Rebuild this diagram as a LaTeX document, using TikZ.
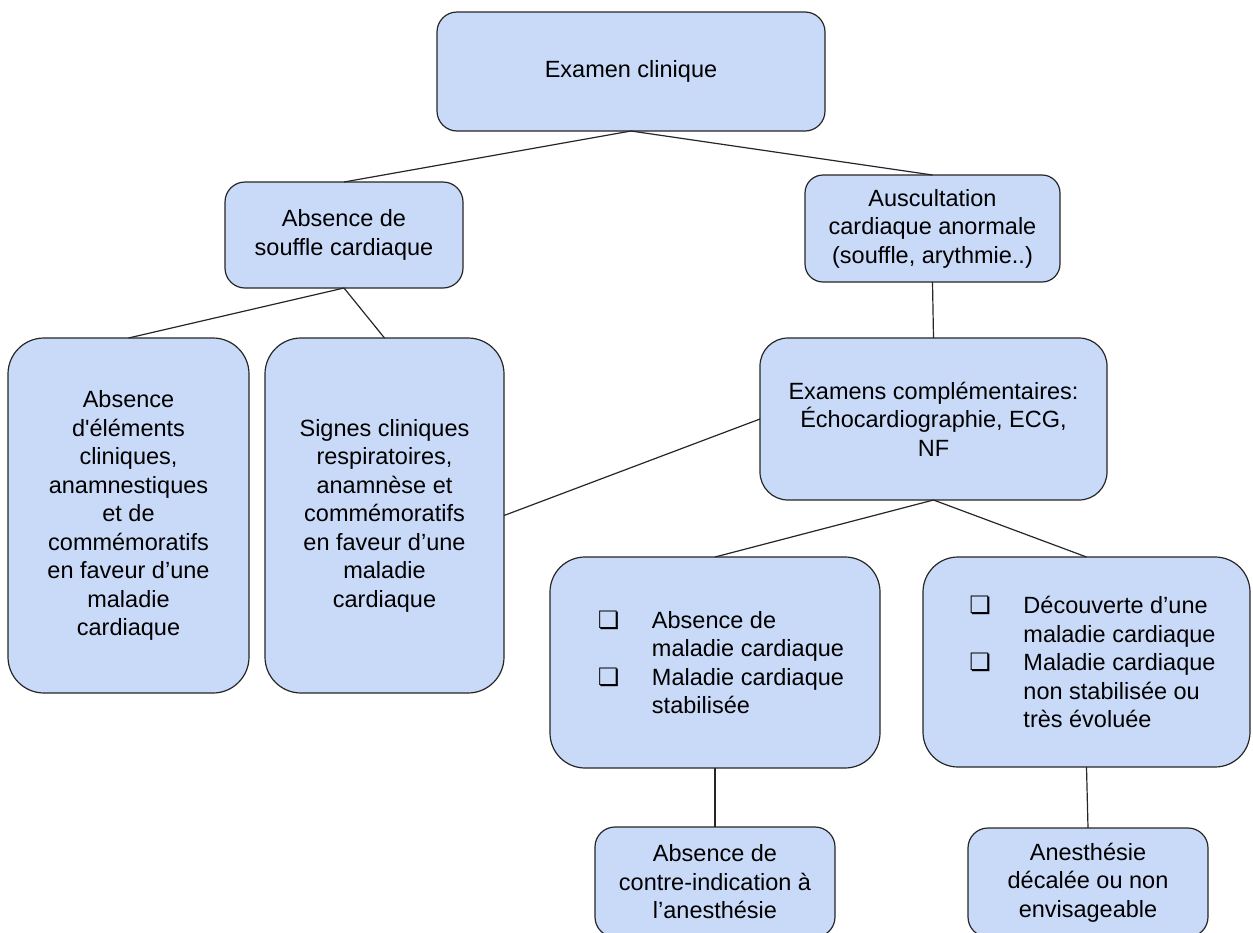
\documentclass[tikz,border=0pt]{standalone}
\usepackage{fontspec}
\setmainfont{Liberation Sans}
\newfontfamily\symbfont{DejaVu Sans}
\usepackage{tikz}
\usetikzlibrary{positioning}
\usepackage{xcolor}
\definecolor{boxblue}{HTML}{C9DAF8}
\newcommand{\chk}{\hspace*{12pt}\makebox[54pt][l]{\symbfont\fontsize{24}{24}\selectfont ❏}}
\newcommand{\nochk}{\hspace*{66pt}}

\begin{document}
\begin{tikzpicture}[
    x=1pt, y=-1pt,
    box/.style={draw=black!85, line width=1.2pt, fill=boxblue, rounded corners=#1,
      align=center, inner sep=0pt, outer sep=0pt, font=\fontsize{23.5}{28.5}\selectfont},
    box/.default=20pt,
    link/.style={draw=black!85, line width=1.2pt}
  ]
  \useasboundingbox (0,0) rectangle (1253,932);
  \clip (0,0) rectangle (1253,932);

  \node[box, minimum width=388pt, minimum height=119pt] (exam) at (631,71.5) {Examen clinique};
  \node[box, minimum width=238pt, minimum height=106pt] (souffle) at (344,235) {Absence de\\souffle cardiaque};
  \node[box=18pt, minimum width=255pt, minimum height=107pt] (auscult) at (932.5,228.5) {
    Auscultation\\cardiaque anormale\\(souffle, arythmie..)};
  \node[box=36pt, minimum width=241pt, minimum height=355pt] (elements) at (128.5,515.5) {
    Absence\\d\textquotesingle éléments\\cliniques,\\anamnestiques\\et de\\commémoratifs\\en faveur d’une\\maladie\\cardiaque};
  \node[box=36pt, minimum width=239pt, minimum height=355pt] (signes) at (384.5,515.5) {
    Signes cliniques\\respiratoires,\\anamnèse et\\commémoratifs\\en faveur d’une\\maladie\\cardiaque};
  \node[box=28pt, minimum width=347pt, minimum height=162pt] (examens) at (933.5,419) {
    Examens complémentaires:\\Échocardiographie, ECG,\\NF};
  \node[box=35pt, minimum width=330pt, minimum height=211pt, align=left] (sansmal) at (715,662.5) {
    \chk Absence de\\
    \nochk maladie cardiaque\\
    \chk Maladie cardiaque\\
    \nochk stabilisée};
  \node[box=35pt, minimum width=327pt, minimum height=210pt, align=left] (malad) at (1086.5,662) {
    \chk Découverte d’une\\
    \nochk maladie cardiaque\\
    \chk Maladie cardiaque\\
    \nochk non stabilisée ou\\
    \nochk très évoluée};
  \node[box, minimum width=240pt, minimum height=110pt] (okanesth) at (715,882) {
    Absence de\\contre-indication à\\l’anesthésie};
  \node[box, minimum width=240pt, minimum height=109pt] (decal) at (1088,882.5) {
    Anesthésie\\décalée ou non\\envisageable};

  % liaisons
  \draw[link] (exam.south) -- (souffle.north);
  \draw[link] (exam.south) -- (auscult.north);
  \draw[link] (souffle.south) -- (elements.north);
  \draw[link] (souffle.south) -- (signes.north);
  \draw[link] (auscult.south) -- (examens.north);
  \draw[link] (examens.west) -- (signes.east);
  \draw[link] (examens.south) -- (sansmal.north);
  \draw[link] (examens.south) -- (malad.north);
  \draw[link] (sansmal.south) -- (okanesth.north);
  \draw[link] (malad.south) -- (decal.north);
\end{tikzpicture}
\end{document}
